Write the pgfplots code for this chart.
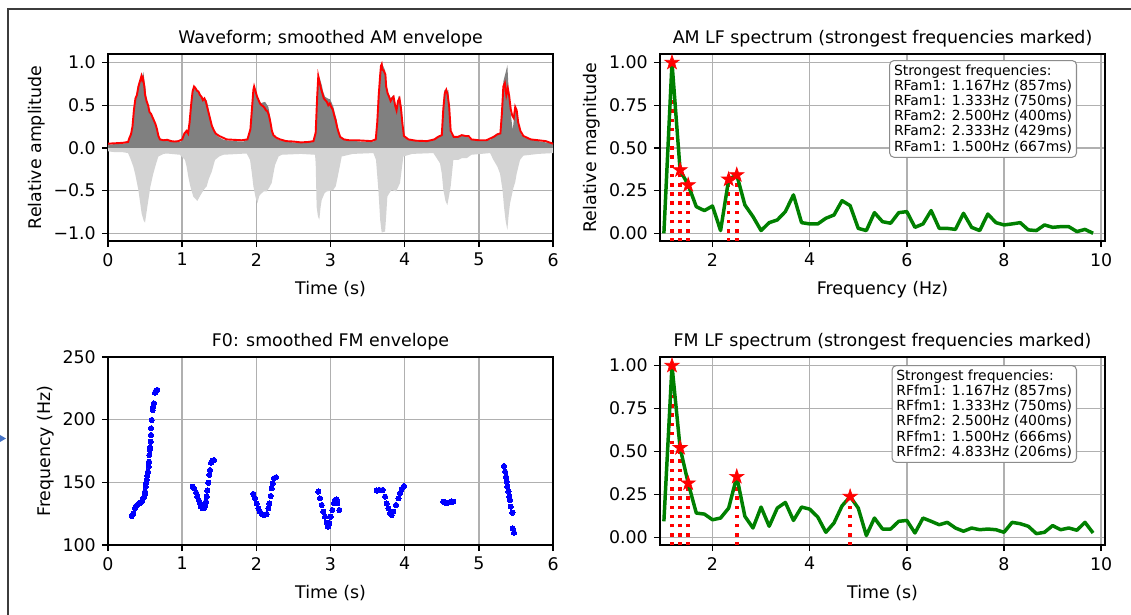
\documentclass[border=0pt]{standalone}
\usepackage{fontspec}
\setmainfont{DejaVu Sans}
\usepackage{pgfplots}
\pgfplotsset{compat=1.18}

\definecolor{mplgreen}{RGB}{0,128,0}
\definecolor{mplgray}{RGB}{128,128,128}
\definecolor{mpllight}{RGB}{211,211,211}
\definecolor{gridc}{RGB}{176,176,176}
\definecolor{framec}{RGB}{60,60,60}
\definecolor{arrowc}{RGB}{68,114,196}

\pgfdeclareplotmark{fstar}{%
 \pgfpathmoveto{\pgfpointpolar{90}{\pgfplotmarksize}}%
 \pgfpathlineto{\pgfpointpolar{126}{0.382\pgfplotmarksize}}%
 \pgfpathlineto{\pgfpointpolar{162}{\pgfplotmarksize}}%
 \pgfpathlineto{\pgfpointpolar{198}{0.382\pgfplotmarksize}}%
 \pgfpathlineto{\pgfpointpolar{234}{\pgfplotmarksize}}%
 \pgfpathlineto{\pgfpointpolar{270}{0.382\pgfplotmarksize}}%
 \pgfpathlineto{\pgfpointpolar{306}{\pgfplotmarksize}}%
 \pgfpathlineto{\pgfpointpolar{342}{0.382\pgfplotmarksize}}%
 \pgfpathlineto{\pgfpointpolar{18}{\pgfplotmarksize}}%
 \pgfpathlineto{\pgfpointpolar{54}{0.382\pgfplotmarksize}}%
 \pgfpathclose
 \pgfusepathqfillstroke
}

\pgfplotsset{
 mpl/.style={
   scale only axis,
   anchor=south west,
   axis line style={black, line width=0.8pt},
   every tick/.style={black, line width=0.8pt},
   major tick length=3.5pt,
   tick align=outside,
   tick pos=left,
   grid=major,
   major grid style={gridc, line width=0.8pt},
   title style={font=\fontsize{10}{12}\selectfont, at={(0.5,1)}, anchor=base},
   label style={font=\fontsize{10}{12}\selectfont},
   xlabel style={yshift=-1.5pt},
   ylabel style={yshift=-2pt},
   tick label style={font=\fontsize{10}{12}\selectfont},
   /pgf/number format/assume math mode=true,
 },
}
\tikzset{
 legbox/.style={draw=black!45, line width=0.6pt, fill=white, rounded corners=2.5pt,
   inner sep=2.5pt, align=left, anchor=north east,
   font=\fontsize{8}{8.7}\selectfont},
}

\begin{document}
\begin{tikzpicture}[x=0.575pt,y=0.575pt]
\path[use as bounding box] (0,0) rectangle (1131,615);
% screenshot frame and arrow
\draw[framec, line width=0.7pt] (1131,606) -- (8,606) -- (8,0);
\fill[arrowc] (0,173) -- (6,176.5) -- (0,180) -- cycle;

% ---------------- Top left: waveform ----------------
\begin{axis}[mpl, at={(62.1pt,215.05pt)}, width=255.9pt, height=107.5pt,
  xmin=0, xmax=6, ymin=-1.09, ymax=1.10,
  xtick={0,1,2,3,4,5,6},
  ytick={-1,-0.5,0,0.5,1}, yticklabels={−1.0,−0.5,0.0,0.5,1.0},
  title={Waveform; smoothed AM envelope},
  xlabel={Time (s)}, ylabel={Relative amplitude}]
\addplot[fill=mpllight, draw=none] coordinates {
(0,-0.04) (0.1,-0.05) (0.2,-0.05) (0.27,-0.06) (0.30,-0.12) (0.342,-0.22) (0.37,-0.32) (0.409,-0.49) (0.43,-0.62) (0.454,-0.77) (0.48,-0.85) (0.499,-0.875) (0.52,-0.75) (0.544,-0.61) (0.57,-0.46) (0.611,-0.30) (0.65,-0.18) (0.679,-0.10) (0.75,-0.07) (0.791,-0.065) (0.971,-0.08) (1.038,-0.14) (1.06,-0.22) (1.083,-0.34) (1.11,-0.45) (1.15,-0.57) (1.204,-0.62) (1.23,-0.58) (1.263,-0.53) (1.30,-0.48) (1.330,-0.45) (1.36,-0.36) (1.398,-0.28) (1.443,-0.14) (1.50,-0.10) (1.555,-0.08) (1.870,-0.065) (1.915,-0.14) (1.94,-0.30) (1.960,-0.45) (1.99,-0.58) (2.013,-0.65) (2.04,-0.56) (2.072,-0.53) (2.10,-0.51) (2.139,-0.51) (2.17,-0.47) (2.207,-0.41) (2.23,-0.30) (2.252,-0.20) (2.30,-0.10) (2.342,-0.08) (2.60,-0.07) (2.791,-0.08) (2.80,-0.18) (2.813,-0.69) (2.83,-0.80) (2.849,-0.84) (2.865,-0.70) (2.881,-0.61) (2.92,-0.53) (2.948,-0.51) (3.00,-0.50) (3.038,-0.49) (3.07,-0.45) (3.106,-0.30) (3.151,-0.10) (3.30,-0.07) (3.578,-0.06) (3.613,-0.14) (3.645,-0.49) (3.67,-0.85) (3.690,-0.99) (3.735,-0.98) (3.75,-0.80) (3.766,-0.57) (3.80,-0.52) (3.825,-0.49) (3.85,-0.50) (3.883,-0.51) (3.90,-0.48) (3.937,-0.41) (3.96,-0.25) (3.982,-0.10) (4.10,-0.07) (4.387,-0.06) (4.476,-0.18) (4.50,-0.30) (4.521,-0.49) (4.55,-0.62) (4.575,-0.67) (4.60,-0.55) (4.620,-0.45) (4.656,-0.14) (4.724,-0.14) (4.769,-0.12) (4.836,-0.12) (4.90,-0.08) (5.151,-0.06) (5.196,-0.14) (5.25,-0.22) (5.285,-0.30) (5.320,-0.50) (5.339,-0.69) (5.36,-0.85) (5.384,-0.96) (5.40,-0.80) (5.420,-0.65) (5.465,-0.47) (5.49,-0.40) (5.510,-0.30) (5.555,-0.14) (5.60,-0.09) (5.80,-0.07) (6.0,-0.06)
} \closedcycle;
\addplot[fill=mplgray, draw=none] coordinates {
(0,0.04) (0.1,0.045) (0.2,0.05) (0.27,0.06) (0.30,0.13) (0.32,0.16) (0.34,0.30) (0.364,0.52) (0.38,0.62) (0.409,0.74) (0.43,0.80) (0.454,0.82) (0.476,0.89) (0.49,0.80) (0.51,0.66) (0.521,0.55) (0.54,0.46) (0.566,0.42) (0.59,0.38) (0.611,0.34) (0.63,0.30) (0.656,0.22) (0.68,0.14) (0.70,0.11) (0.75,0.09) (0.791,0.09) (0.85,0.08) (0.90,0.07) (0.971,0.07) (1.00,0.09) (1.038,0.19) (1.06,0.20) (1.083,0.19) (1.10,0.35) (1.128,0.56) (1.15,0.68) (1.164,0.72) (1.19,0.68) (1.218,0.66) (1.25,0.62) (1.285,0.58) (1.31,0.57) (1.33,0.56) (1.35,0.48) (1.375,0.37) (1.40,0.28) (1.42,0.21) (1.45,0.16) (1.488,0.13) (1.55,0.10) (1.60,0.09) (1.70,0.08) (1.825,0.075) (1.892,0.11) (1.937,0.32) (1.955,0.60) (1.969,0.72) (1.985,0.68) (2.004,0.63) (2.03,0.57) (2.049,0.52) (2.08,0.53) (2.117,0.54) (2.14,0.51) (2.162,0.48) (2.193,0.33) (2.21,0.22) (2.229,0.15) (2.27,0.11) (2.319,0.09) (2.45,0.07) (2.589,0.055) (2.70,0.065) (2.769,0.074) (2.804,0.17) (2.82,0.55) (2.836,0.86) (2.86,0.80) (2.881,0.74) (2.90,0.66) (2.926,0.60) (2.96,0.58) (2.993,0.57) (3.02,0.52) (3.038,0.48) (3.06,0.40) (3.083,0.33) (3.10,0.22) (3.128,0.13) (3.17,0.10) (3.218,0.09) (3.40,0.075) (3.578,0.075) (3.622,0.13) (3.645,0.45) (3.658,0.76) (3.675,0.92) (3.690,1.0) (3.71,0.96) (3.735,0.91) (3.75,0.78) (3.766,0.66) (3.79,0.62) (3.811,0.58) (3.83,0.60) (3.847,0.62) (3.865,0.52) (3.883,0.43) (3.90,0.50) (3.915,0.60) (3.928,0.61) (3.945,0.53) (3.960,0.48) (3.982,0.15) (4.02,0.11) (4.072,0.094) (4.20,0.09) (4.387,0.09) (4.431,0.13) (4.47,0.14) (4.499,0.15) (4.515,0.45) (4.535,0.68) (4.56,0.66) (4.589,0.68) (4.605,0.40) (4.620,0.17) (4.65,0.14) (4.679,0.13) (4.72,0.14) (4.769,0.14) (4.80,0.15) (4.836,0.15) (4.881,0.10) (5.0,0.09) (5.151,0.094) (5.218,0.15) (5.25,0.17) (5.285,0.17) (5.31,0.45) (5.330,0.78) (5.36,0.88) (5.384,0.97) (5.40,0.70) (5.411,0.64) (5.43,0.40) (5.456,0.21) (5.48,0.40) (5.501,0.48) (5.52,0.40) (5.533,0.30) (5.555,0.20) (5.578,0.15) (5.62,0.12) (5.667,0.11) (5.80,0.08) (5.90,0.065) (6.0,0.055)
} \closedcycle;
\addplot[red, line width=1.1pt] coordinates {
(0,0.05) (0.1,0.055) (0.2,0.06) (0.27,0.07) (0.29,0.12) (0.31,0.16) (0.33,0.25) (0.35,0.45) (0.37,0.58) (0.39,0.62) (0.41,0.72) (0.43,0.78) (0.45,0.84) (0.46,0.80) (0.47,0.82) (0.49,0.72) (0.50,0.62) (0.52,0.55) (0.54,0.50) (0.56,0.42) (0.58,0.40) (0.60,0.36) (0.62,0.32) (0.64,0.28) (0.66,0.22) (0.68,0.14) (0.70,0.10) (0.75,0.09) (0.80,0.095) (0.85,0.08) (0.90,0.075) (0.95,0.08) (1.00,0.10) (1.03,0.17) (1.06,0.20) (1.08,0.17) (1.10,0.30) (1.12,0.50) (1.14,0.66) (1.16,0.72) (1.18,0.70) (1.20,0.67) (1.22,0.66) (1.24,0.62) (1.26,0.60) (1.28,0.56) (1.30,0.58) (1.32,0.54) (1.34,0.47) (1.36,0.40) (1.38,0.33) (1.40,0.26) (1.42,0.22) (1.45,0.17) (1.50,0.14) (1.55,0.12) (1.60,0.10) (1.70,0.095) (1.80,0.09) (1.88,0.10) (1.92,0.22) (1.94,0.45) (1.96,0.68) (1.97,0.72) (1.99,0.66) (2.01,0.60) (2.03,0.56) (2.05,0.52) (2.07,0.50) (2.09,0.49) (2.11,0.47) (2.13,0.44) (2.15,0.43) (2.17,0.38) (2.19,0.30) (2.21,0.20) (2.23,0.15) (2.27,0.12) (2.32,0.10) (2.40,0.08) (2.50,0.075) (2.60,0.065) (2.70,0.07) (2.77,0.08) (2.80,0.18) (2.82,0.60) (2.835,0.84) (2.85,0.78) (2.87,0.70) (2.89,0.64) (2.91,0.58) (2.93,0.56) (2.95,0.54) (2.97,0.50) (2.99,0.52) (3.01,0.48) (3.03,0.45) (3.05,0.38) (3.07,0.32) (3.09,0.24) (3.11,0.18) (3.13,0.13) (3.18,0.10) (3.25,0.09) (3.35,0.09) (3.45,0.085) (3.55,0.08) (3.61,0.10) (3.63,0.30) (3.65,0.62) (3.67,0.86) (3.68,0.96) (3.69,0.98) (3.70,0.92) (3.72,0.90) (3.74,0.86) (3.75,0.72) (3.77,0.64) (3.79,0.60) (3.81,0.55) (3.83,0.58) (3.85,0.60) (3.87,0.50) (3.89,0.44) (3.91,0.55) (3.93,0.58) (3.95,0.46) (3.97,0.28) (3.99,0.14) (4.05,0.10) (4.15,0.085) (4.30,0.08) (4.40,0.10) (4.45,0.13) (4.50,0.15) (4.52,0.45) (4.54,0.64) (4.56,0.68) (4.58,0.62) (4.60,0.48) (4.62,0.20) (4.66,0.13) (4.72,0.13) (4.77,0.15) (4.82,0.14) (4.86,0.14) (4.90,0.10) (5.00,0.09) (5.10,0.09) (5.20,0.13) (5.25,0.16) (5.29,0.17) (5.31,0.40) (5.33,0.72) (5.35,0.76) (5.37,0.62) (5.39,0.70) (5.41,0.60) (5.43,0.45) (5.45,0.38) (5.47,0.35) (5.49,0.48) (5.51,0.44) (5.53,0.30) (5.56,0.20) (5.60,0.14) (5.65,0.12) (5.70,0.10) (5.80,0.09) (5.90,0.08) (6.0,0.05)
};
\end{axis}

% ---------------- Top right: AM spectrum ----------------
\begin{axis}[mpl, at={(379.5pt,215.05pt)}, width=255.9pt, height=107.5pt,
  xmin=0.92, xmax=10.08, ymin=-0.045, ymax=1.05,
  xtick={2,4,6,8,10},
  ytick={0,0.25,0.5,0.75,1}, yticklabels={0.00,0.25,0.50,0.75,1.00},
  title={AM LF spectrum (strongest frequencies marked)},
  xlabel={Frequency (Hz)}, ylabel={Relative magnitude}]
\addplot[red, line width=2pt, dash pattern=on 2pt off 3.3pt, unbounded coords=jump] coordinates {
(1.1667,-0.05) (1.1667,1.0) (1.1667,nan)
(1.3333,-0.05) (1.3333,0.371) (1.3333,nan)
(1.5,-0.05) (1.5,0.283) (1.5,nan)
(2.3333,-0.05) (2.3333,0.316) (2.3333,nan)
(2.5,-0.05) (2.5,0.342)
};
\addplot[only marks, mark=fstar, mark size=4.3pt, red, mark options={fill=red, draw=red, line width=0.4pt}] coordinates {
(1.1667,1.0) (1.3333,0.371) (1.5,0.283) (2.3333,0.316) (2.5,0.342)
};
\addplot[mplgreen, line width=2pt, line join=round] coordinates {
(1.0,0.0) (1.1667,1.0) (1.3333,0.371) (1.5,0.283) (1.6667,0.156) (1.8333,0.133) (2.0,0.160) (2.1667,0.016) (2.3333,0.316) (2.5,0.342) (2.6667,0.166) (2.8333,0.098) (3.0,0.016) (3.1667,0.0625) (3.3333,0.078) (3.5,0.127) (3.6667,0.225) (3.8333,0.0625) (4.0,0.055) (4.1667,0.055) (4.3333,0.088) (4.5,0.107) (4.6667,0.191) (4.8333,0.162) (5.0,0.029) (5.1667,0.016) (5.3333,0.121) (5.5,0.068) (5.6667,0.059) (5.8333,0.121) (6.0,0.127) (6.1667,0.035) (6.3333,0.055) (6.5,0.133) (6.6667,0.029) (6.8333,0.029) (7.0,0.023) (7.1667,0.117) (7.3333,0.035) (7.5,0.016) (7.6667,0.113) (7.8333,0.0625) (8.0,0.049) (8.1667,0.055) (8.3333,0.0625) (8.5,0.020) (8.6667,0.016) (8.8333,0.049) (9.0,0.035) (9.1667,0.039) (9.3333,0.039) (9.5,0.010) (9.6667,0.023) (9.8333,0.0)
};
\node[legbox] at (rel axis cs:0.937,0.968) {Strongest frequencies:\\RFam1: 1.167Hz (857ms)\\RFam1: 1.333Hz (750ms)\\RFam2: 2.500Hz (400ms)\\RFam2: 2.333Hz (429ms)\\RFam1: 1.500Hz (667ms)};
\end{axis}

% ---------------- Bottom left: F0 ----------------
\begin{axis}[mpl, at={(62.1pt,40.25pt)}, width=255.9pt, height=108.1pt,
  xmin=0, xmax=6, ymin=100, ymax=250,
  xtick={0,1,2,3,4,5,6}, ytick={100,150,200,250},
  title={F0: smoothed FM envelope},
  xlabel={Time (s)}, ylabel={Frequency (Hz)}]
\addplot[only marks, mark=*, mark size=1.5pt, blue, mark options={fill=blue, draw=blue, line width=0pt}] coordinates {
(0.319,123.1) (0.342,125.3) (0.364,129.3) (0.378,131.1) (0.396,131.9) (0.422,133.2) (0.440,133.8) (0.458,134.8) (0.467,136.4) (0.485,138.0) (0.494,139.9) (0.499,142.6) (0.508,146.5) (0.512,149.2) (0.521,151.9) (0.530,155.1) (0.539,158.5) (0.548,162.5) (0.553,166.5) (0.557,171.8) (0.562,175.8) (0.566,177.9) (0.575,182.4) (0.580,187.8) (0.580,193.1) (0.589,199.7) (0.602,207.7) (0.611,210.4) (0.620,213.0) (0.634,221.5) (0.647,223.1) (0.665,223.7)
(1.142,146.5) (1.160,145.2) (1.187,141.8) (1.204,138.6) (1.222,135.9) (1.240,133.2) (1.254,130.6) (1.276,129.3) (1.294,129.3) (1.312,131.1) (1.321,134.6) (1.330,138.6) (1.339,143.4) (1.353,149.7) (1.366,155.9) (1.375,159.8) (1.389,165.7) (1.407,167.3) (1.429,167.8)
(1.960,140.7) (1.982,137.2) (2.004,133.2) (2.027,129.3) (2.049,126.6) (2.072,124.7) (2.103,123.9) (2.139,124.7) (2.162,129.3) (2.175,133.2) (2.193,139.1) (2.207,145.2) (2.220,149.2) (2.238,153.2) (2.265,154.0)
(2.836,142.6) (2.858,137.2) (2.881,131.9) (2.903,126.6) (2.926,122.6) (2.948,117.8) (2.966,114.6) (2.984,117.3) (3.002,122.6) (3.025,127.9) (3.047,133.2) (3.061,135.9) (3.083,136.4) (3.092,133.2) (3.119,127.9)
(3.622,143.4) (3.658,143.9) (3.703,143.9) (3.735,138.6) (3.757,133.2) (3.780,129.3) (3.802,125.3) (3.825,123.9) (3.847,126.6) (3.883,131.9) (3.915,137.2) (3.937,141.2) (3.960,144.7) (3.991,147.1)
(4.521,134.6) (4.544,133.8) (4.566,133.2) (4.589,133.8) (4.611,134.3) (4.634,134.8) (4.656,134.6)
(5.339,163.0) (5.353,158.5) (5.366,154.5) (5.375,150.5) (5.384,146.5) (5.398,142.6) (5.411,138.6) (5.420,135.9) (5.429,130.6) (5.452,125.8) (5.456,113.3) (5.474,109.8)
};
\end{axis}

% ---------------- Bottom right: FM spectrum ----------------
\begin{axis}[mpl, at={(379.5pt,40.25pt)}, width=255.9pt, height=108.1pt,
  xmin=0.92, xmax=10.08, ymin=-0.045, ymax=1.05,
  xtick={2,4,6,8,10},
  ytick={0,0.25,0.5,0.75,1}, yticklabels={0.00,0.25,0.50,0.75,1.00},
  title={FM LF spectrum (strongest frequencies marked)},
  xlabel={Time (s)}]
\addplot[red, line width=2pt, dash pattern=on 2pt off 3.3pt, unbounded coords=jump] coordinates {
(1.1667,-0.05) (1.1667,1.0) (1.1667,nan)
(1.3333,-0.05) (1.3333,0.521) (1.3333,nan)
(1.5,-0.05) (1.5,0.315) (1.5,nan)
(2.5,-0.05) (2.5,0.353) (2.5,nan)
(4.8333,-0.05) (4.8333,0.237)
};
\addplot[only marks, mark=fstar, mark size=4.3pt, red, mark options={fill=red, draw=red, line width=0.4pt}] coordinates {
(1.1667,1.0) (1.3333,0.521) (1.5,0.315) (2.5,0.353) (4.8333,0.237)
};
\addplot[mplgreen, line width=2pt, line join=round] coordinates {
(1.0,0.093) (1.1667,1.0) (1.3333,0.521) (1.5,0.315) (1.6667,0.141) (1.8333,0.135) (2.0,0.102) (2.1667,0.112) (2.3333,0.170) (2.5,0.353) (2.6667,0.122) (2.8333,0.054) (3.0,0.176) (3.1667,0.064) (3.3333,0.170) (3.5,0.203) (3.6667,0.098) (3.8333,0.176) (4.0,0.164) (4.1667,0.118) (4.3333,0.029) (4.5,0.083) (4.6667,0.183) (4.8333,0.237) (5.0,0.170) (5.1667,0.010) (5.3333,0.112) (5.5,0.048) (5.6667,0.048) (5.8333,0.093) (6.0,0.098) (6.1667,0.025) (6.3333,0.112) (6.5,0.093) (6.6667,0.073) (6.8333,0.087) (7.0,0.054) (7.1667,0.035) (7.3333,0.054) (7.5,0.044) (7.6667,0.048) (7.8333,0.044) (8.0,0.029) (8.1667,0.087) (8.3333,0.079) (8.5,0.064) (8.6667,0.021) (8.8333,0.029) (9.0,0.068) (9.1667,0.044) (9.3333,0.054) (9.5,0.041) (9.6667,0.087) (9.8333,0.025)
};
\node[legbox] at (rel axis cs:0.937,0.957) {Strongest frequencies:\\RFfm1: 1.167Hz (857ms)\\RFfm1: 1.333Hz (750ms)\\RFfm2: 2.500Hz (400ms)\\RFfm1: 1.500Hz (666ms)\\RFfm2: 4.833Hz (206ms)};
\end{axis}
\end{tikzpicture}
\end{document}
